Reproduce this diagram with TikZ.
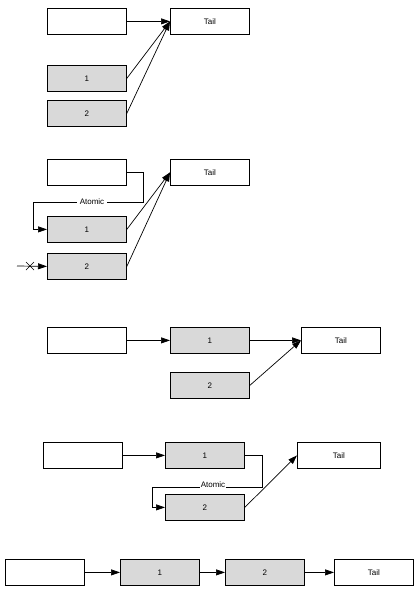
\documentclass[tikz,border=0pt]{standalone}
\usepackage{fontspec}
\setmainfont{Liberation Sans}
\usetikzlibrary{arrows.meta}
\definecolor{boxgray}{HTML}{D9D9D9}
\begin{document}
\begin{tikzpicture}[x=1pt,y=-1pt,
  box/.style={draw,line width=0.8pt,minimum width=79pt,minimum height=26pt,inner sep=0pt,font=\fontsize{8}{9}\selectfont,anchor=north west},
  gbox/.style={box,fill=boxgray},
  arr/.style={-{Triangle[length=9pt,width=6pt]},line width=0.7pt},
  lbl/.style={fill=white,inner sep=1pt,font=\fontsize{8}{9}\selectfont}]
\useasboundingbox (0,0) rectangle (420,592);
% Diagram 1
\node[box] (a0) at (47,8) {};
\node[box] (at) at (170,8) {Tail};
\node[gbox] (a1) at (47,65) {1};
\node[gbox] (a2) at (47,100) {2};
\draw[arr] (a0.east) -- (at.west);
\draw[arr] (a1.east) -- (at.west);
\draw[arr] (a2.east) -- (at.west);
% Diagram 2
\node[box] (b0) at (47,159) {};
\node[box] (bt) at (170,159) {Tail};
\node[gbox] (b1) at (47,216) {1};
\node[gbox] (b2) at (47,253) {2};
\draw[arr] (b0.east) -| (143,202) -- (33,202) |- (b1.west);
\node[lbl,inner xsep=3pt] (batom) at (92,202) {Atomic};
\draw[arr] (b1.east) -- (bt.west);
\draw[arr] (b2.east) -- (bt.west);
\coordinate (bx) at (17,266);
\draw[arr] (bx) -- (b2.west);
\draw[line width=0.7pt] (26,262) -- (34,270) (26,270) -- (34,262);
% Diagram 3
\node[box] (c0) at (47,327) {};
\node[gbox] (c1) at (170,327) {1};
\node[box] (ct) at (301,327) {Tail};
\node[gbox] (c2) at (170,372) {2};
\draw[arr] (c0.east) -- (c1.west);
\draw[arr] (c1.east) -- (ct.west);
\draw[arr] (c2.east) -- (ct.west);
% Diagram 4
\node[box] (d0) at (43,442) {};
\node[gbox] (d1) at (165,442) {1};
\node[box,minimum width=83pt] (dt) at (297,442) {Tail};
\node[gbox] (d2) at (165,494) {2};
\draw[arr] (d0.east) -- (d1.west);
\draw[arr] (d1.east) -| (262,487) -- (152,487) |- (d2.west);
\node[lbl,inner sep=0.3pt] (datom) at (213,485) {Atomic};
\draw[arr] (d2.east) -- (dt.west);
% Diagram 5
\node[box] (e0) at (5,559) {};
\node[gbox] (e1) at (120,559) {1};
\node[gbox] (e2) at (225,559) {2};
\node[box] (et) at (334,559) {Tail};
\draw[arr] (e0.east) -- (e1.west);
\draw[arr] (e1.east) -- (e2.west);
\draw[arr] (e2.east) -- (et.west);
\end{tikzpicture}
\end{document}
